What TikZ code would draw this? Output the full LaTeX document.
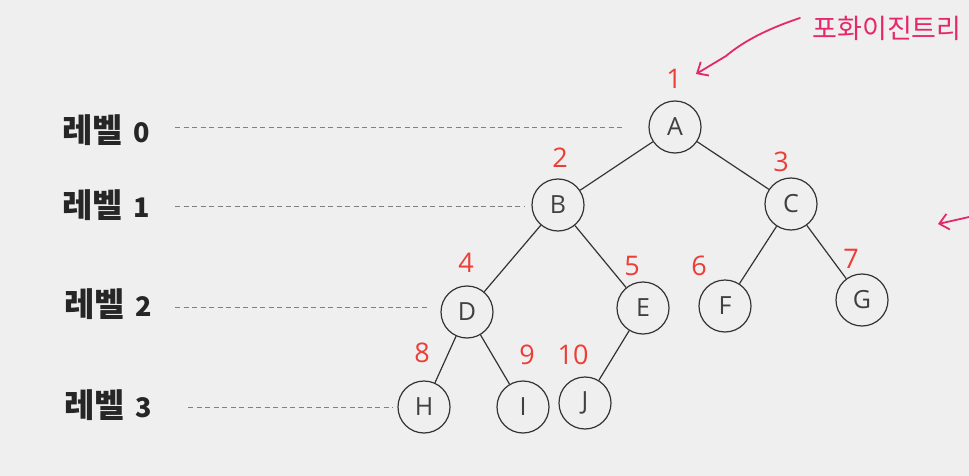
\documentclass[tikz,border=0pt]{standalone}
\usepackage{fontspec}
\setmainfont{Open Sans}
\newfontfamily\kr{Noto Sans CJK KR}
\usetikzlibrary{arrows.meta}
\definecolor{bgc}{RGB}{239,239,239}
\definecolor{idx}{RGB}{236,62,55}
\definecolor{pen}{RGB}{228,40,105}
\newcommand{\lvtext}[1]{레벨\hspace{11pt}{\fontsize{27}{27}\selectfont #1}}
\tikzset{
  vtx/.style={circle, draw=black!80, line width=1.2pt, minimum size=52pt, inner sep=0pt, font=\fontsize{25}{25}\selectfont, text=black!75},
  num/.style={text=idx, font=\fontsize{27}{27}\selectfont, inner sep=0pt},
  lvl/.style={font=\kr\bfseries\fontsize{33}{33}\selectfont, text=black!85, anchor=west, inner sep=0pt},
  guide/.style={draw=black!50, dash pattern=on 5pt off 3.5pt, line width=0.7pt},
  edge/.style={draw=black!80, line width=1.2pt},
  penline/.style={draw=pen, line width=1.8pt, line cap=round, -{Straight Barb[length=9pt, width=16pt]}}
}

\begin{document}
\begin{tikzpicture}[x=1pt, y=-1pt]
\fill[bgc] (0,0) rectangle (969,476); %background
\useasboundingbox (0,0) rectangle (969,476);

\node[vtx] (A) at (675,127) {A};
\node[vtx] (B) at (558,205) {B};
\node[vtx] (C) at (791,204) {C};
\node[vtx] (D) at (467,312) {D};
\node[vtx] (E) at (643,308) {E};
\node[vtx] (F) at (725,306) {F};
\node[vtx] (G) at (862,300) {G};
\node[vtx] (H) at (424,407) {H};
\node[vtx] (I) at (523,407) {I};
\node[vtx] (J) at (585,403) {J};

\draw[edge] (A) -- (B) (A) -- (C); %level 0 to 1
\draw[edge] (B) -- (D) (B) -- (E) (C) -- (F) (C) -- (G); %level 1 to 2
\draw[edge] (D) -- (H) (D) -- (I) (E) -- (J); %level 2 to 3

\node[num] (n1) at (674,79) {1};
\node[num] (n2) at (560,158) {2};
\node[num] (n3) at (781,162) {3};
\node[num] (n4) at (466,263) {4};
\node[num] (n5) at (632,266) {5};
\node[num] (n6) at (699,266) {6};
\node[num] (n7) at (851,259) {7};
\node[num] (n8) at (422,353) {8};
\node[num] (n9) at (527,355) {9};
\node[num] (n10) at (573,355) {10};

\node[lvl] (lv0) at (62,130) {\lvtext{0}};
\node[lvl] (lv1) at (62,205) {\lvtext{1}};
\node[lvl] (lv2) at (64,304) {\lvtext{2}};
\node[lvl] (lv3) at (64,405) {\lvtext{3}};

% dashed guides start after the labels
\coordinate (g0) at (175,127);
\coordinate (g1) at (175,206);
\coordinate (g2) at (175,307);
\coordinate (g3) at (188,407);
\draw[guide, shorten >=24pt] (g0) -- (A.west |- g0);
\draw[guide, shorten >=7pt] (g1) -- (B.west |- g1);
\draw[guide, shorten >=11pt] (g2) -- (D.west |- g2);
\draw[guide, shorten >=5pt] (g3) -- (H.west |- g3);

\node[text=pen, font=\kr\fontsize{27}{27}\selectfont, inner sep=0pt] (memo) at (887,28) {포화이진트리}; %handwritten note
\coordinate (memoTail) at (800,18);
\draw[penline] (memoTail) .. controls (770,28) and (745,40) .. (726,56) -- (696,74);
\coordinate (sideTail) at (969,217);
\coordinate (sideTip) at (938,224);
\draw[penline] (sideTail) -- (sideTip); %cut off at the edge
\end{tikzpicture}
\end{document}
